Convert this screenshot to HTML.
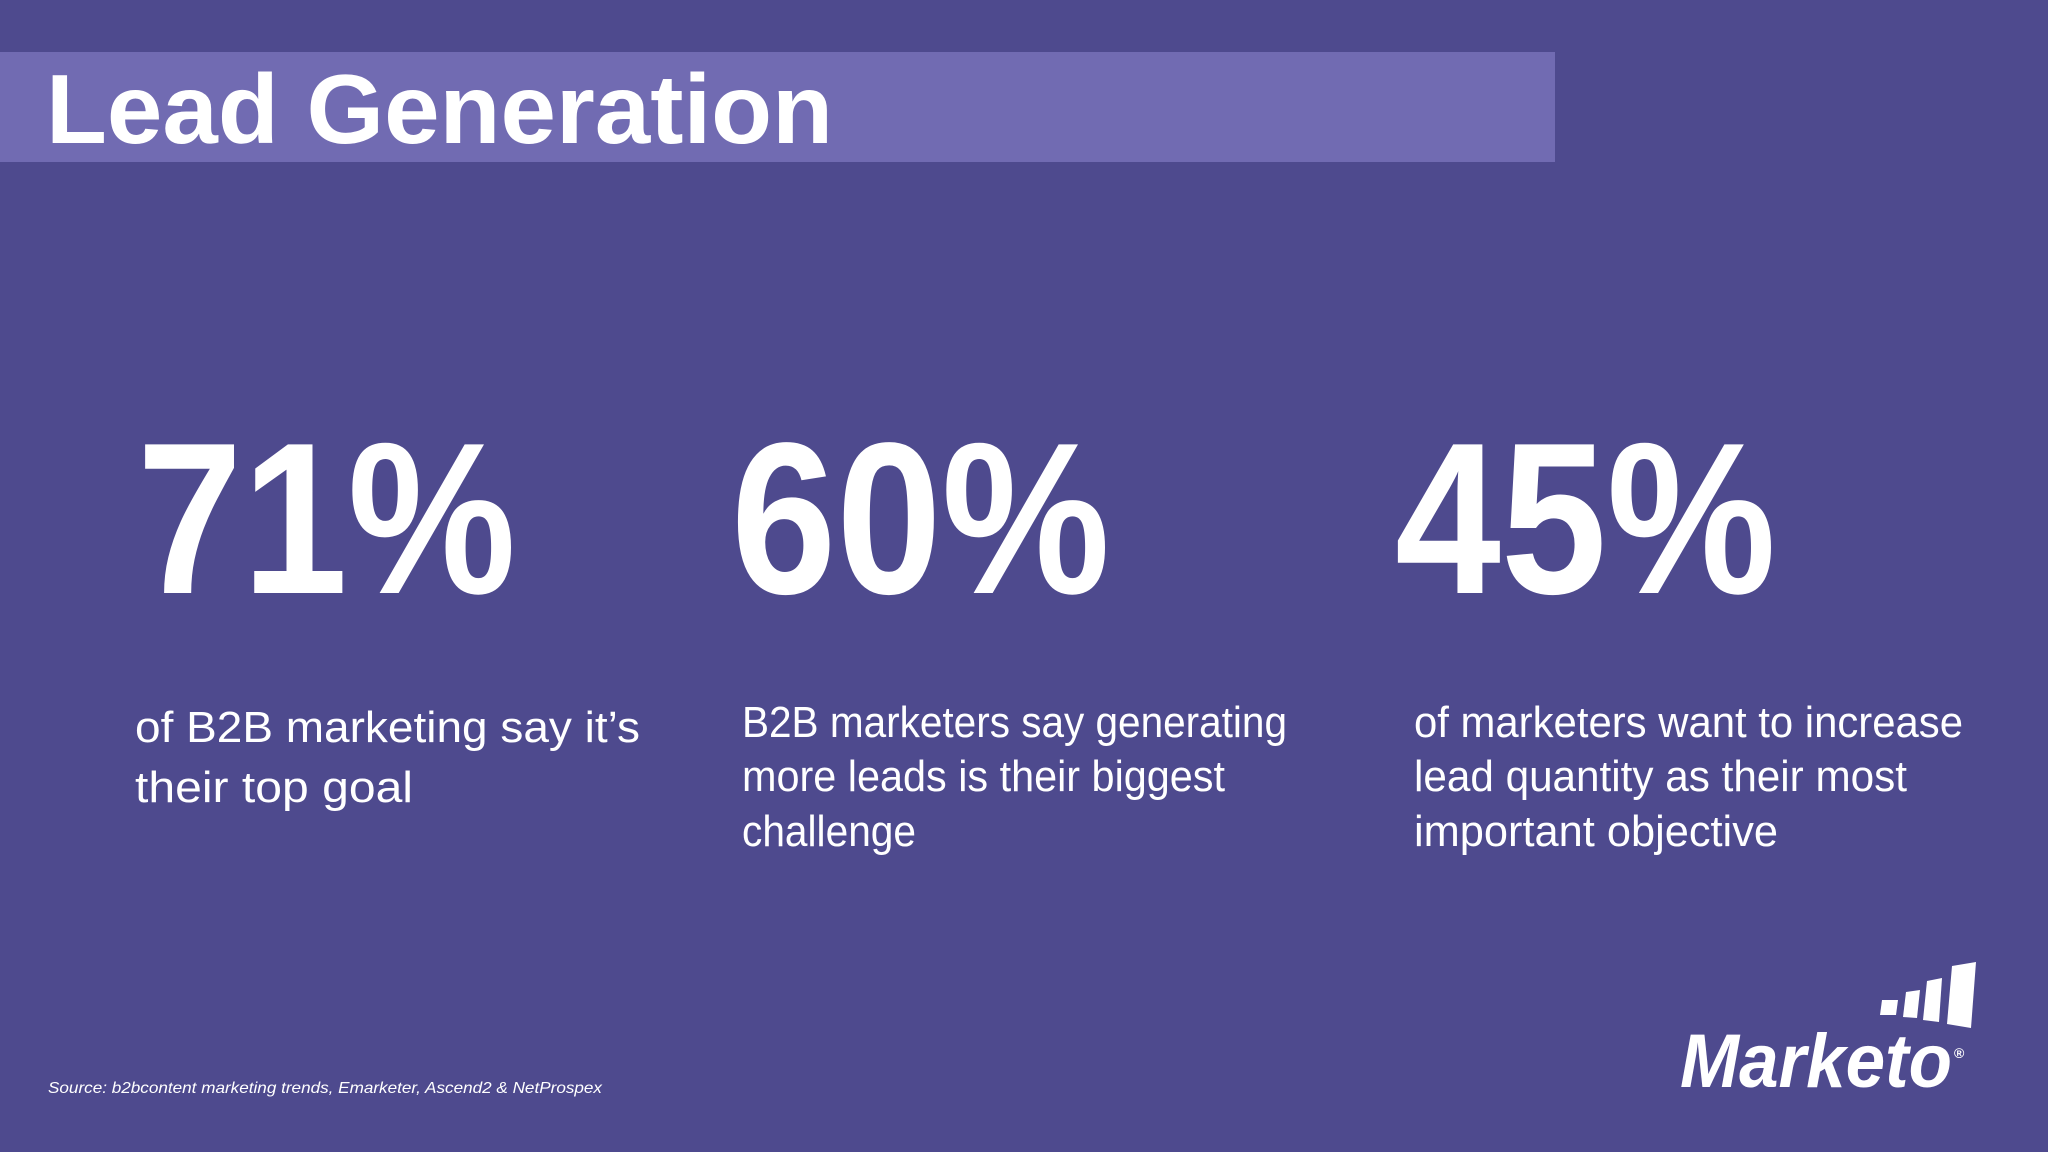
<!DOCTYPE html>
<html><head><meta charset="utf-8"><style>
html,body{margin:0;padding:0;background:#4e4a8e;}
svg{display:block}
text{font-family:"Liberation Sans",sans-serif;fill:#fff}
</style></head><body>
<svg width="2048" height="1152" viewBox="0 0 2048 1152">
<rect width="2048" height="1152" fill="#4e4a8e"/>
<rect x="0" y="52" width="1555" height="110" fill="#716bb2"/>
<text x="46" y="143" font-size="98" font-weight="bold" textLength="787" lengthAdjust="spacingAndGlyphs">Lead Generation</text>

<text x="137" y="593" font-size="216" font-weight="bold" textLength="379" lengthAdjust="spacingAndGlyphs">71%</text>
<text x="731" y="593" font-size="216" font-weight="bold" textLength="379" lengthAdjust="spacingAndGlyphs">60%</text>
<text x="1395" y="593" font-size="216" font-weight="bold" textLength="381" lengthAdjust="spacingAndGlyphs">45%</text>

<g font-size="44">
<text x="135" y="742" textLength="505" lengthAdjust="spacingAndGlyphs">of B2B marketing say it’s</text>
<text x="135" y="802" textLength="278" lengthAdjust="spacingAndGlyphs">their top goal</text>
</g>
<g font-size="44">
<text x="742" y="737" textLength="545" lengthAdjust="spacingAndGlyphs">B2B marketers say generating</text>
<text x="742" y="791" textLength="483" lengthAdjust="spacingAndGlyphs">more leads is their biggest</text>
<text x="742" y="846" textLength="174" lengthAdjust="spacingAndGlyphs">challenge</text>
</g>
<g font-size="44">
<text x="1414" y="737" textLength="549" lengthAdjust="spacingAndGlyphs">of marketers want to increase</text>
<text x="1414" y="791" textLength="493" lengthAdjust="spacingAndGlyphs">lead quantity as their most</text>
<text x="1414" y="846" textLength="364" lengthAdjust="spacingAndGlyphs">important objective</text>
</g>

<text x="48" y="1093" font-size="16" font-style="italic" textLength="554" lengthAdjust="spacingAndGlyphs">Source: b2bcontent marketing trends, Emarketer, Ascend2 &amp; NetProspex</text>

<g fill="#fff">
<polygon points="1882,1000 1898,1000 1896,1015 1880,1015"/>
<polygon points="1906,992 1920,990 1917,1018 1903,1017"/>
<polygon points="1927,981 1942,978 1939,1022 1923,1020"/>
<polygon points="1952,966 1976,962 1971,1028 1947,1024"/>
<text x="1680" y="1087" font-size="76" font-weight="bold" font-style="italic" textLength="272" lengthAdjust="spacingAndGlyphs">Marketo</text>
<text x="1954" y="1058" font-size="14" font-weight="bold">®</text>
</g>
</svg>
</body></html>
